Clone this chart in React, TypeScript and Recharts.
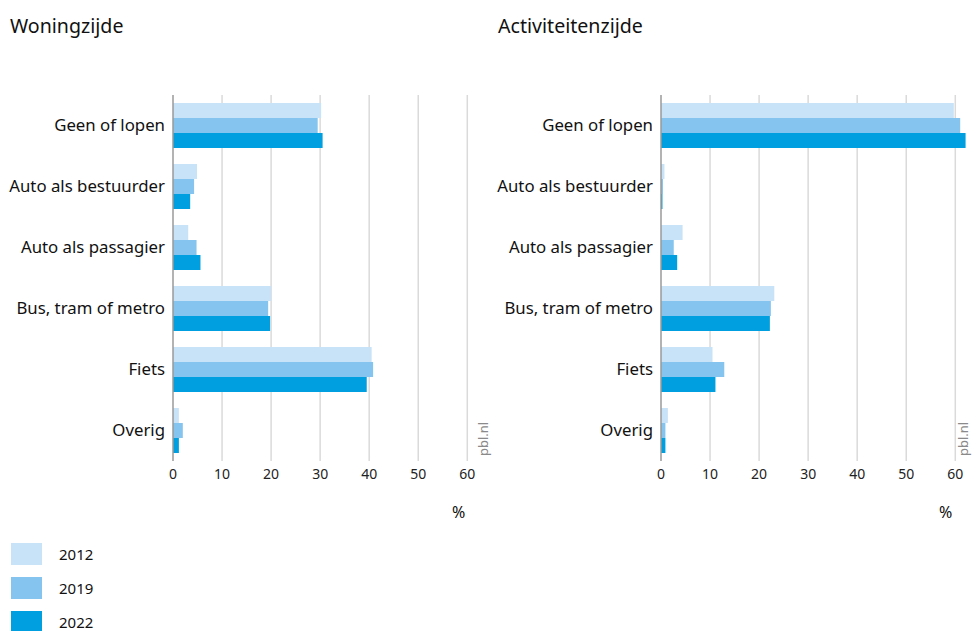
import { BarChart, Bar, XAxis, YAxis, CartesianGrid } from "recharts";

const categories = [
  "Geen of lopen",
  "Auto als bestuurder",
  "Auto als passagier",
  "Bus, tram of metro",
  "Fiets",
  "Overig",
];

const woning2012 = [30.2, 4.9, 3.1, 20.0, 40.5, 1.2];
const woning2019 = [29.5, 4.3, 4.8, 19.4, 40.8, 2.0];
const woning2022 = [30.5, 3.5, 5.6, 19.8, 39.5, 1.2];

const activiteit2012 = [59.7, 0.7, 4.4, 23.1, 10.5, 1.4];
const activiteit2019 = [61.0, 0.4, 2.6, 22.4, 12.9, 0.9];
const activiteit2022 = [62.1, 0.3, 3.3, 22.2, 11.1, 0.9];

const xTicks = [0, 10, 20, 30, 40, 50, 60];
const xMax = 63;

const SERIES = [
  { key: "y2012", label: "2012", color: "#c8e3f7" },
  { key: "y2019", label: "2019", color: "#85c4ef" },
  { key: "y2022", label: "2022", color: "#009fe0" },
];

const FONT = "'Noto Sans', 'Open Sans', sans-serif";

function buildRows(a: number[], b: number[], c: number[]) {
  return categories.map((name, i) => ({ name, y2012: a[i], y2019: b[i], y2022: c[i] }));
}

// grid only at the tick values, behind the bars
function gridX({ xAxis, offset }: any) {
  const s = xAxis && xAxis.scale;
  if (typeof s === "function") return xTicks.slice(1).map((t) => s(t));
  if (s && typeof s.map === "function") return xTicks.slice(1).map((t) => s.map(t));
  return xTicks.slice(1).map((t) => offset.left + (t / xMax) * offset.width);
}

function Panel({ data, left }: { data: any[]; left: number }) {
  return (
    <div style={{ position: "absolute", left, top: 95 }}>
      <BarChart
        width={482}
        height={400}
        data={data}
        layout="vertical"
        margin={{ top: 0, right: 0, bottom: 0, left: 0 }}
        barGap={0}
        barSize={15}
      >
        <CartesianGrid horizontal={false} verticalCoordinatesGenerator={gridX} stroke="#dadada" strokeWidth={1.5} />
        <XAxis
          type="number"
          domain={[0, xMax]}
          ticks={xTicks}
          allowDataOverflow
          axisLine={false}
          tickLine={false}
          height={34}
          tick={{ fill: "#222", fontSize: 14, fontFamily: FONT }}
        />
        <YAxis
          type="category"
          dataKey="name"
          width={173}
          axisLine={{ stroke: "#9a9a9a", strokeWidth: 1.5 }}
          tickLine={false}
          tick={{ fill: "#111", fontSize: 16.8, fontFamily: FONT }}
        />
        {SERIES.map((s) => (
          <Bar key={s.key} dataKey={s.key} fill={s.color} isAnimationActive={false} />
        ))}
      </BarChart>
    </div>
  );
}

export default function App() {
  const woning = buildRows(woning2012, woning2019, woning2022);
  const activiteit = buildRows(activiteit2012, activiteit2019, activiteit2022);

  const text = { position: "absolute" as const, fontFamily: FONT, color: "#111" };

  return (
    <div style={{ position: "absolute", left: 0, top: 0, width: 973, height: 631, overflow: "hidden", background: "#fff" }}>
      <div style={{ ...text, left: 10, top: 12, fontSize: 19.6 }}>Woningzijde</div>
      <div style={{ ...text, left: 498, top: 12, fontSize: 19.6 }}>Activiteitenzijde</div>

      <Panel data={woning} left={0} />
      <Panel data={activiteit} left={488} />

      <div style={{ ...text, left: 452, top: 501, fontSize: 16 }}>%</div>
      <div style={{ ...text, left: 939, top: 501, fontSize: 16 }}>%</div>

      {[476, 956].map((x) => (
        <div
          key={x}
          style={{
            ...text,
            left: x,
            top: 456,
            fontSize: 13,
            lineHeight: "15px",
            color: "#8a8a8a",
            transform: "rotate(-90deg)",
            transformOrigin: "0 0",
            whiteSpace: "nowrap",
          }}
        >
          pbl.nl
        </div>
      ))}

      {SERIES.map((s, i) => (
        <div key={s.key} style={{ position: "absolute", left: 11, top: 543 + i * 34, height: 22, display: "flex", alignItems: "center" }}>
          <div style={{ width: 31, height: 22, background: s.color }} />
          <span style={{ marginLeft: 17, fontFamily: FONT, fontSize: 15, lineHeight: "15px", color: "#111" }}>{s.label}</span>
        </div>
      ))}
    </div>
  );
}
